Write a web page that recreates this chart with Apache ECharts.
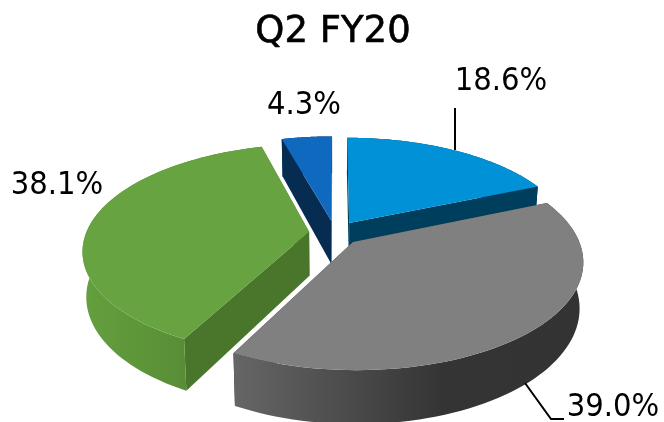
<!DOCTYPE html>
<html>
<head>
<meta charset="utf-8">
<script src="https://cdn.jsdelivr.net/npm/echarts@6/dist/echarts.min.js"></script>
<style>html,body{margin:0;padding:0;background:#fff}#c{width:664px;height:422px}</style>
</head>
<body>
<div id="c"></div>
<script>
const titleText = 'Q2 FY20';
const values = [18.6, 39.0, 38.1, 4.3];
const topColors = ['#0091d7', '#808080', '#67a340', '#0f69bf'];
const faceColors = ['#003e5e', '#333333', '#4a762c', '#062c52'];
const wallStops = [
  [[0, '#003e5e'], [1, '#003e5e']],
  [[0, '#666666'], [0.6, '#343434'], [1, '#333333']],
  [[0, '#64a03e'], [1, '#4f7f30']],
  [[0, '#062c52'], [1, '#062c52']]
];
const stackOrder = [2, 3, 4, 1];
const labelSpots = [[501, 82], [613, 408], [57, 186], [304, 106]];
const leaderLines = [
  [[455, 108], [455, 150]],
  [[525, 383], [551, 419], [564, 419]],
  null,
  null
];

const total = values.reduce((a, b) => a + b, 0);
const view = { cx: 335, cy: 233, rx: 223, ry: 103, tilt: 0.17, depth: 44, explode: 0.117, taper: 0.015 };

function project(u, v, h) {
  const s = 1 / (1 + view.tilt * v);
  return [
    view.cx + s * u * view.rx * (1 - view.taper * h),
    view.cy - s * v * view.ry + s * h * view.depth
  ];
}

function sliceShapes(i) {
  let acc = 0;
  for (let k = 0; k < i; k++) acc += values[k];
  const a0 = acc / total * Math.PI * 2;
  const a1 = (acc + values[i]) / total * Math.PI * 2;
  const mid = (a0 + a1) / 2;
  const ox = view.explode * Math.sin(mid);
  const oy = view.explode * Math.cos(mid);
  const rim = (a, h) => project(ox + Math.sin(a), oy + Math.cos(a), h);
  const apex = h => project(ox, oy, h);
  const n = 72;
  const arc = [];
  for (let j = 0; j <= n; j++) arc.push(a0 + (a1 - a0) * j / n);
  const top = [apex(0)].concat(arc.map(a => rim(a, 0)));
  const wall = arc.map(a => rim(a, 0)).concat(arc.slice().reverse().map(a => rim(a, 1)));
  const faceStart = [apex(0), rim(a0, 0), rim(a0, 1), apex(1)];
  const faceEnd = [apex(0), rim(a1, 0), rim(a1, 1), apex(1)];
  const xs = wall.map(p => p[0]);
  return { top, wall, faceStart, faceEnd, minX: Math.min(...xs), maxX: Math.max(...xs) };
}

function renderSlice(params, api) {
  const i = params.dataIndex;
  const s = sliceShapes(i);
  const z = stackOrder[i] * 10;
  const poly = (points, fill, dz) => ({
    type: 'polygon', z2: z + dz, shape: { points }, style: { fill }, silent: true
  });
  const wallFill = {
    type: 'linear', global: true, x: s.minX, y: 0, x2: s.maxX, y2: 0,
    colorStops: wallStops[i].map(c => ({ offset: c[0], color: c[1] }))
  };
  const children = [
    poly(s.faceStart, faceColors[i], 0),
    poly(s.faceEnd, faceColors[i], 0),
    poly(s.wall, wallFill, 1),
    poly(s.top, topColors[i], 2)
  ];
  if (leaderLines[i]) {
    children.push({
      type: 'polyline', z2: 100, shape: { points: leaderLines[i] }, silent: true,
      style: { stroke: '#000', lineWidth: 2, fill: null }
    });
  }
  children.push({
    type: 'text', z2: 100, silent: true, x: labelSpots[i][0], y: labelSpots[i][1],
    scaleX: 0.91,
    style: {
      text: api.value(0).toFixed(1) + '%', fill: '#000',
      font: '32px "DejaVu Sans"', align: 'center', verticalAlign: 'middle'
    }
  });
  return { type: 'group', children };
}

const chart = echarts.init(document.getElementById('c'), null, { renderer: 'canvas' });
chart.setOption({
  animation: false,
  backgroundColor: '#fff',
  title: {
    text: titleText, left: 328, top: 9, textAlign: 'center',
    textStyle: { color: '#000', fontFamily: 'DejaVu Sans', fontWeight: 'normal', fontSize: 37, textBorderColor: '#000', textBorderWidth: 0.6 }
  },
  series: [{
    type: 'custom',
    coordinateSystem: 'none',
    renderItem: renderSlice,
    data: values.map(v => [v]),
    clip: false
  }]
});
</script>
</body>
</html>
